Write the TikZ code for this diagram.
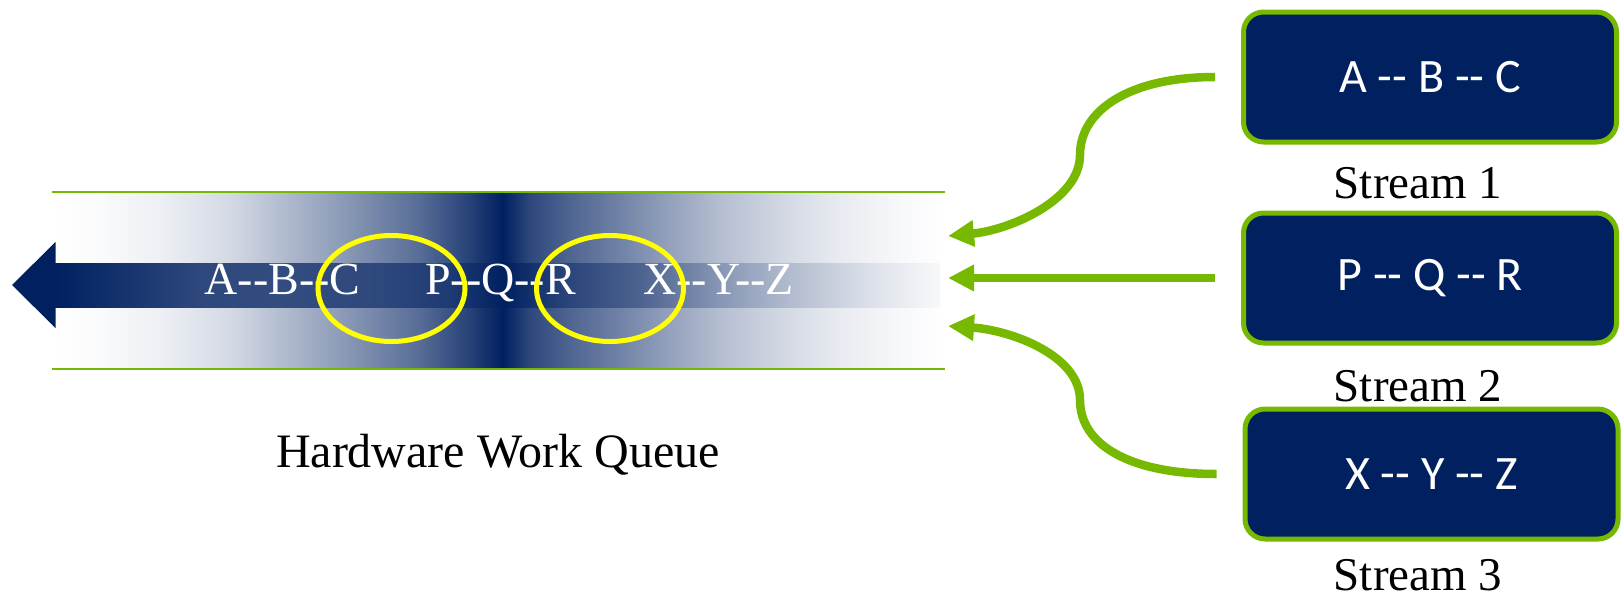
\documentclass[tikz,border=0pt]{standalone}
\usepackage{fontspec}
\setmainfont{Liberation Serif}
\newfontfamily\boxfont{Carlito}
\usetikzlibrary{arrows.meta,shapes.geometric}

\definecolor{navy}{HTML}{002060}
\definecolor{nvgreen}{HTML}{76B900}
\definecolor{hiyellow}{HTML}{FFFF00}

% tints of navy used by the gradients
\colorlet{b02}{navy!2!white}
\colorlet{b03}{navy!3!white}
\colorlet{b07}{navy!7!white}
\colorlet{b09}{navy!9!white}
\colorlet{b12}{navy!12!white}
\colorlet{b17}{navy!17!white}
\colorlet{b18}{navy!18!white}
\colorlet{b28}{navy!28!white}
\colorlet{b29}{navy!29!white}
\colorlet{b42}{navy!42!white}
\colorlet{b47}{navy!47!white}
\colorlet{b56}{navy!56!white}
\colorlet{b66}{navy!66!white}
\colorlet{b69}{navy!69!white}
\colorlet{b70}{navy!70!white}
\colorlet{b80}{navy!80!white}
\colorlet{b82}{navy!82!white}
\colorlet{b85}{navy!85!white}
\colorlet{b88}{navy!88!white}
\colorlet{b92}{navy!92!white}

% queue background: white at both ends, dark in the middle
\pgfdeclarehorizontalshading{bandshade}{100bp}{
  color(0bp)=(white); color(25bp)=(white);
  color(27.69bp)=(b02); color(31.05bp)=(b07); color(34.97bp)=(b17);
  color(40.57bp)=(b42); color(45.60bp)=(b66); color(48.41bp)=(b85);
  color(50.25bp)=(navy);
  color(51.76bp)=(b82); color(54.00bp)=(b69); color(56.80bp)=(b56);
  color(59.60bp)=(b42); color(62.40bp)=(b29); color(65.76bp)=(b18);
  color(69.12bp)=(b09); color(72.48bp)=(b03);
  color(75bp)=(white); color(100bp)=(white)}

% arrow body running through the queue
\pgfdeclarehorizontalshading{shaftshade}{100bp}{
  color(0bp)=(navy); color(25bp)=(navy);
  color(28.67bp)=(b92); color(33.19bp)=(b82); color(37.71bp)=(b80);
  color(43.36bp)=(b82); color(47.32bp)=(b88);
  color(50.31bp)=(navy);
  color(53.53bp)=(b85); color(58.05bp)=(b70); color(62.57bp)=(b47);
  color(67.09bp)=(b28); color(71.61bp)=(b12);
  color(75bp)=(b03); color(100bp)=(b03)}

\tikzset{
  rail/.style={draw=nvgreen, line width=2pt},
  qtext/.style={text=white, anchor=base, inner sep=0pt,
    font=\fontsize{46}{54}\selectfont},
  lbl/.style={text=black, anchor=base, inner sep=0pt,
    font=\fontsize{47}{56}\selectfont},
  ring/.style={ellipse, draw=hiyellow, line width=5pt, inner sep=0pt,
    minimum width=147pt, minimum height=106pt},
  streambox/.style={rectangle, rounded corners=20pt, fill=navy, draw=nvgreen,
    line width=5pt, minimum width=373pt, minimum height=130pt, inner sep=0pt,
    text=white, font=\boxfont\fontsize{48}{57}\selectfont},
  flow/.style={draw=nvgreen, line width=8.5pt,
    -{Triangle[length=26pt,width=25pt]}, shorten <=26pt},
}

\begin{document}
\begin{tikzpicture}[x=1pt,y=-1pt]
\useasboundingbox (0,0) rectangle (1621,597);

% hardware work queue
\shade[shading=bandshade] (52,192) rectangle (945,369);
\draw[rail] (52,192) -- (945,192);
\draw[rail] (52,369) -- (945,369);
\shade[shading=shaftshade] (55,263) rectangle (940,307);
\fill[navy] (55.5,242) -- (12,285) -- (55.5,328) -- cycle;

\node[qtext] (qa) at (282.5,294) {A-{}-B-{}-C};
\node[qtext] (qp) at (500.5,294) {P-{}-Q-{}-R};
\node[qtext] (qx) at (718.5,294) {X-{}-Y-{}-Z};

\node[ring] (e1) at (391.5,288.5) {};
\node[ring] (e2) at (610,288.5) {};

\node[lbl, font=\fontsize{48}{57}\selectfont] (hwq) at (498,467) {Hardware Work Queue};

% streams
\node[streambox] (s1) at (1430,77) {A -{}- B -{}- C};
\node[streambox] (s2) at (1430,278) {P -{}- Q -{}- R};
\node[streambox] (s3) at (1431.5,474) {X -{}- Y -{}- Z};

\node[lbl] (l1) at (1418,198) {Stream 1};
\node[lbl] (l2) at (1418,401) {Stream 2};
\node[lbl] (l3) at (1418,590) {Stream 3};

% entry points on the right end of the queue
\coordinate (in1) at (948,236);
\coordinate (in2) at (948,278);
\coordinate (in3) at (948,326);

\draw[flow] (s1.west) .. controls (1130,77) and (1080,110) .. (1080,155)
            .. controls (1080,200) and (1010,230) .. (in1);
\draw[flow] (s2.west) -- (in2);
\draw[flow] (s3.west) .. controls (1130,474) and (1080,445) .. (1080,400)
            .. controls (1080,355) and (1010,330) .. (in3);
\end{tikzpicture}
\end{document}
